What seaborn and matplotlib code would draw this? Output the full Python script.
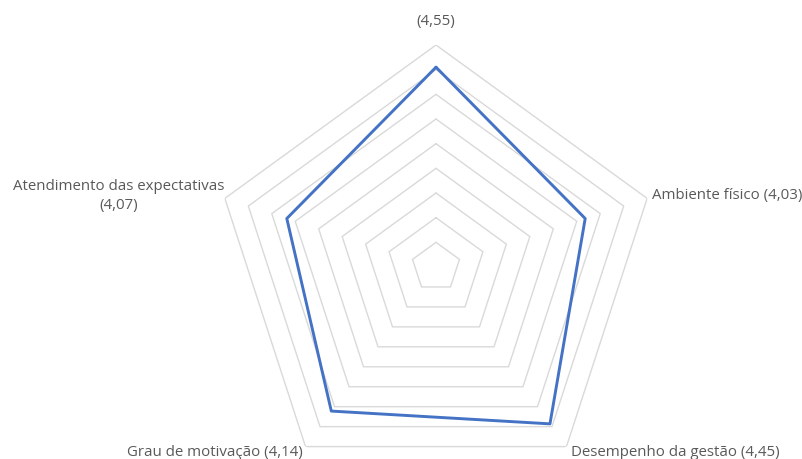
import numpy as np
import pandas as pd
import seaborn as sns
import matplotlib.pyplot as plt

# categories as printed around the chart (clockwise from the top)
labels = ["(4,55)",
          "Ambiente físico (4,03)",
          "Desempenho da gestão (4,45)",
          "Grau de motivação (4,14)",
          "Atendimento das expectativas\n(4,07)"]
# plotted values
values = [4.55, 3.68, 4.43, 4.11, 3.68]
# radial grid levels (Excel style, 0.5 .. 5)
r_min, r_max = 0.5, 5.0
levels = np.arange(1.0, 5.01, 0.5)

sns.set_theme(style="white")
plt.rcParams['font.family'] = ['Open Sans', 'DejaVu Sans']

fig = plt.figure(figsize=[8.03, 4.59], dpi=100)
W, H = 803, 459
cx, cy, R = 436, 267, 222
ax = fig.add_axes([(cx - R) / W, (H - cy - R) / H, 2 * R / W, 2 * R / H],
                  projection='polar')
ax.set_theta_offset(np.pi / 2)
ax.set_theta_direction(-1)
ax.set_ylim(r_min, r_max)
ax.grid(False)
ax.set_xticks([])
ax.set_yticks([])
ax.spines['polar'].set_visible(False)
ax.patch.set_alpha(0)

n = len(labels)
theta = np.linspace(0, 2 * np.pi, n, endpoint=False)
theta_c = np.append(theta, 0)

# pentagon grid
for lv in levels:
    ax.plot(theta_c, [lv] * (n + 1), color='#d9d9d9', lw=1.0, zorder=1)

df = pd.DataFrame({'theta': np.append(theta, 2 * np.pi),
                   'value': values + values[:1]})
sns.lineplot(data=df, x='theta', y='value', sort=False, color='#4472c4',
             lw=2.1, ax=ax, zorder=3)
ax.set_xlabel('')
ax.set_ylabel('')
ax.set_ylim(r_min, r_max)

txt = dict(color='#595959', fontsize=10.8)
fig.text(436 / W, 1 - 22 / H, labels[0], ha='center', va='center', **txt)
fig.text(652 / W, 1 - 195 / H, labels[1], ha='left', va='center', **txt)
fig.text(571 / W, 1 - 453 / H, labels[2], ha='left', va='center', **txt)
fig.text(215 / W, 1 - 453 / H, labels[3], ha='center', va='center', **txt)
fig.text(119 / W, 1 - 196 / H, labels[4], ha='center', va='center',
         multialignment='center', linespacing=1.45, **txt)

fig.savefig('out.png', dpi=100)
